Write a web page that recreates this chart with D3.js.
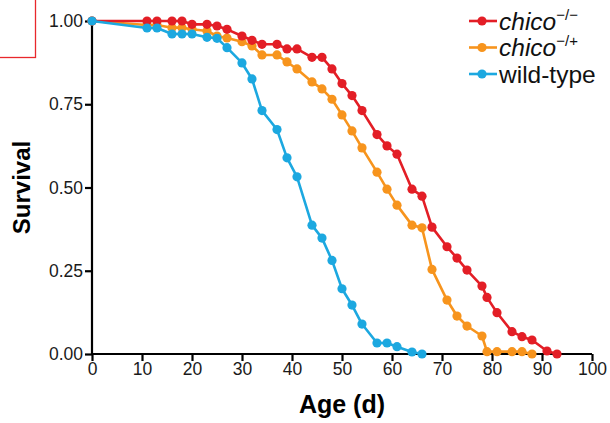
<!DOCTYPE html>
<html>
<head>
<meta charset="utf-8">
<script src="https://cdn.jsdelivr.net/npm/d3@7"></script>
<style>
  body { margin: 0; background: #fff; }
  svg { display: block; font-family: "Liberation Sans", Arial, Helvetica, sans-serif; }
</style>
</head>
<body>
<div id="chart"></div>
<script>
// age (days) at each census
const ageDays = [0, 11, 13, 16, 18, 20, 23, 25, 27, 30, 32, 34, 37, 39, 41, 44, 46, 48, 50, 52,
    54, 57, 59, 61, 64, 66, 68, 71, 73, 75, 78, 79, 81, 84, 86, 88, 91, 93];

// survival fractions
const chicoHom = [1, 1, 1, 1, 1, .99, .99, .985, .975, .955, .942, .93, .93, .916, .916, .891, .891, .856, .812, .776,
    .731, .659, .625, .6, .495, .474, .381, .322, .288, .252, .204, .17, .124, .067, .052, .042, .009, 0];
const chicoHet = [1, .988, .988, .98, .98, .975, .97, .955, .949, .938, .925, .898, .898, .877, .856, .817, .796, .765, .718, .67,
    .619, .546, .495, .447, .387, .379, .254, .162, .114, .084, .054, .007, .007, .007, .007, 0];
const wildType = [1, .979, .979, .961, .961, .961, .951, .948, .92, .874, .826, .731, .674, .589, .532, .387, .348, .281, .196, .147,
    .09, .033, .033, .022, .006, 0];

const xTicks = [0, 10, 20, 30, 40, 50, 60, 70, 80, 90, 100];
const yTicks = [0, 0.25, 0.5, 0.75, 1];

const series = [
    {key: 'het', label: 'chico', sup: '\u2212/+', values: chicoHet, color: '#f7941d', row: 1},
    {key: 'hom', label: 'chico', sup: '\u2212/\u2212', values: chicoHom, color: '#e31e26', row: 0},
    {key: 'wt', label: 'wild-type', sup: null, values: wildType, color: '#1ca8e0', row: 2}
];

const width = 610, height = 423;
const margin = {top: 21, right: 18, bottom: 69, left: 92};

const svg = d3.select('#chart').append('svg')
    .attr('width', width)
    .attr('height', height);

svg.append('rect').attr('width', width).attr('height', height).attr('fill', '#fff');

// stray red frame in the corner of the source figure
svg.append('rect')
    .attr('x', -20).attr('y', -20)
    .attr('width', 55.5).attr('height', 77.5)
    .attr('fill', 'none')
    .attr('stroke', '#e8282c')
    .attr('stroke-width', 1.3);

const xScale = d3.scaleLinear().domain([0, 100]).range([margin.left, width - margin.right]);
const yScale = d3.scaleLinear().domain([0, 1]).range([height - margin.bottom, margin.top]);

const xAxis = d3.axisBottom(xScale).tickValues(xTicks).tickSize(7).tickPadding(2).tickFormat(d3.format('d'));
const yAxis = d3.axisLeft(yScale).tickValues(yTicks).tickSize(7).tickPadding(2).tickFormat(d3.format('.2f'));

const xg = svg.append('g')
    .attr('transform', `translate(0, ${yScale(0)})`)
    .call(xAxis);
const yg = svg.append('g')
    .attr('transform', `translate(${xScale(0)}, 0)`)
    .call(yAxis);

[xg, yg].forEach(g => {
    g.select('.domain').attr('stroke', '#000').attr('stroke-width', 2.2);
    g.selectAll('.tick line').attr('stroke', '#000').attr('stroke-width', 2.2);
    g.selectAll('.tick text')
        .attr('fill', '#1a1a1a')
        .style('font-size', '17.5px')
        .style('font-family', '"Liberation Sans", Arial, sans-serif');
});
// axisBottom/axisLeft draw an outer tick cap; flatten it
xg.select('.domain').attr('d', `M${xScale(0)},0H${xScale(100)}`);
yg.select('.domain').attr('d', `M0,${yScale(0)}V${yScale(1)}`);

svg.append('text')
    .attr('x', (xScale(0) + xScale(100)) / 2)
    .attr('y', 413)
    .attr('text-anchor', 'middle')
    .style('font-size', '25px')
    .style('font-weight', 'bold')
    .text('Age (d)');

svg.append('text')
    .attr('transform', `translate(30, ${yScale(0.5)}) rotate(-90)`)
    .attr('text-anchor', 'middle')
    .style('font-size', '24px')
    .style('font-weight', 'bold')
    .text('Survival');

const line = d3.line()
    .x(d => xScale(d.age))
    .y(d => yScale(d.s));

series.forEach(sr => {
    const pts = sr.values.map((s, i) => ({age: ageDays[i], s: s}));
    const g = svg.append('g').attr('class', 'series-' + sr.key);
    g.append('path')
        .datum(pts)
        .attr('d', line)
        .attr('fill', 'none')
        .attr('stroke', sr.color)
        .attr('stroke-width', 2.6)
        .attr('stroke-linejoin', 'round');
    g.selectAll('circle')
        .data(pts)
        .join('circle')
            .attr('cx', d => xScale(d.age))
            .attr('cy', d => yScale(d.s))
            .attr('r', 4.6)
            .attr('fill', sr.color);
});

// legend
const legend = svg.append('g').attr('transform', 'translate(469, 21)');
series.forEach(sr => {
    const row = legend.append('g').attr('transform', `translate(0, ${sr.row * 26.5})`);
    row.append('line')
        .attr('x1', 0).attr('x2', 28)
        .attr('stroke', sr.color).attr('stroke-width', 2.6);
    row.append('circle').attr('cx', 13).attr('r', 4.6).attr('fill', sr.color);
    const t = row.append('text')
        .attr('x', 30)
        .attr('y', 8.5)
        .attr('fill', '#111')
        .style('font-size', '24.5px');
    if (sr.sup) {
        t.append('tspan').style('font-style', 'italic').text(sr.label);
        t.append('tspan').attr('dy', -10).style('font-size', '15px').text(sr.sup);
    } else {
        t.text(sr.label);
    }
});
</script>
</body>
</html>
